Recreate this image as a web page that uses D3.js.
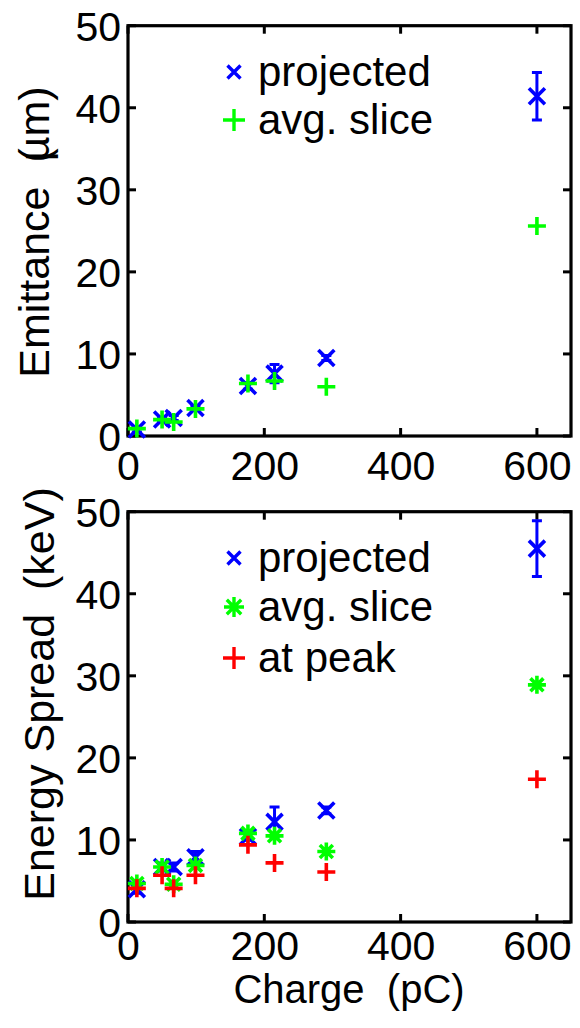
<!DOCTYPE html>
<html><head><meta charset="utf-8">
<script src="https://cdn.jsdelivr.net/npm/d3@7"></script>
<style>html,body{margin:0;padding:0;background:#fff;}svg{display:block;}text{white-space:pre;}</style>
</head><body>
<svg id="c" width="580" height="1028"></svg>
<script>
// ---- data ----
const charge = [13, 50, 67, 99, 176, 215, 291, 600];
const xTicks = [0, 200, 400, 600];
const yTicks = [0, 10, 20, 30, 40, 50];

// top panel: emittance (µm)
const emitProjected = [0.8, 2.0, 2.2, 3.4, 6.1, 7.6, 9.5, 41.4];
const emitProjectedErr = [0.3, 0.3, 0.3, 0.3, 0.4, 1.1, 0.3, 2.9];
const emitSlice = [0.9, 2.0, 1.7, 3.3, 6.4, 6.7, 6.0, 25.6];

// bottom panel: energy spread (keV)
const esProjected = [4.0, 6.7, 6.7, 7.9, 10.4, 12.2, 13.6, 45.5];
const esProjectedErr = [0.5, 0.5, 0.5, 0.7, 0.4, 1.8, 0.4, 3.4];
const esSlice = [4.7, 6.7, 4.6, 6.9, 10.8, 10.5, 8.6, 28.9];
const esPeak = [4.1, 5.7, 4.1, 5.7, 9.4, 7.2, 6.1, 17.4];

const topLegend = ["projected", "avg. slice"];
const botLegend = ["projected", "avg. slice", "at peak"];

// ---- drawing ----
const FONT = "'Liberation Sans', Arial, Helvetica, sans-serif";
const svg = d3.select("#c");
const BLUE = "#0000ff", GREEN = "#00ff00", RED = "#ff0000";

function markerPath(type, r) {
  if (type === "x") return `M${-r},${-r}L${r},${r}M${-r},${r}L${r},${-r}`;
  if (type === "+") return `M${-r},0L${r},0M0,${-r}L0,${r}`;
  const d = r * 0.72;
  return `M${-r},0L${r},0M0,${-r}L0,${r}M${-d},${-d}L${d},${d}M${-d},${d}L${d},${-d}`;
}

function panel(opts) {
  const {top, bottom, left, right} = opts;
  const x = d3.scaleLinear().domain([0, 650]).range([left, right]);
  const y = d3.scaleLinear().domain([0, 50]).range([bottom, top]);
  const g = svg.append("g");

  const tl = 8;
  const axB = d3.axisBottom(x).tickValues(xTicks).tickSize(0).tickPadding(0).tickFormat(d3.format("d"));
  const axL = d3.axisLeft(y).tickValues(yTicks).tickSize(0).tickFormat(d3.format("d"));
  const gb = g.append("g").attr("transform", `translate(0,${bottom})`).call(axB);
  gb.select(".domain").remove();
  gb.selectAll("text").attr("dy", null).attr("y", opts.xLabY).attr("font-size", 41).attr("font-family", FONT).attr("fill", "#000");
  const gl = g.append("g").attr("transform", `translate(${left},0)`).call(axL);
  gl.select(".domain").remove();
  gl.selectAll("text").attr("x", -7).attr("dy", "0.36em").attr("font-size", 41).attr("font-family", FONT).attr("fill", "#000");

  const tickG = g.append("g").attr("stroke", "#000").attr("stroke-width", 3);
  xTicks.forEach(v => {
    tickG.append("line").attr("x1", x(v)).attr("x2", x(v)).attr("y1", bottom).attr("y2", bottom - tl);
    tickG.append("line").attr("x1", x(v)).attr("x2", x(v)).attr("y1", top).attr("y2", top + tl);
  });
  yTicks.forEach(v => {
    tickG.append("line").attr("x1", left).attr("x2", left + tl).attr("y1", y(v)).attr("y2", y(v));
    tickG.append("line").attr("x1", right).attr("x2", right - tl).attr("y1", y(v)).attr("y2", y(v));
  });
  g.append("rect").attr("x", left).attr("y", top).attr("width", right - left).attr("height", bottom - top)
    .attr("fill", "none").attr("stroke", "#000").attr("stroke-width", 3.2);

  const data = g.append("g");
  const eb = data.append("g").attr("stroke", BLUE).attr("stroke-width", 3).attr("fill", "none");
  opts.proj.forEach((v, i) => {
    const e = opts.err[i], cx = x(charge[i]);
    eb.append("path").attr("d",
      `M${cx},${y(v - e)}L${cx},${y(v + e)}M${cx - 5},${y(v - e)}L${cx + 5},${y(v - e)}M${cx - 5},${y(v + e)}L${cx + 5},${y(v + e)}`);
  });
  opts.series.forEach(s => {
    data.append("g").selectAll("path").data(s.values).join("path")
      .attr("transform", (v, i) => `translate(${x(charge[i])},${y(v)})`)
      .attr("d", markerPath(s.type, s.r))
      .attr("stroke", s.color).attr("stroke-width", 3.6).attr("fill", "none");
  });

  const lg = g.append("g");
  opts.legend.forEach((t, i) => {
    const s = opts.series[i];
    const cy = opts.legY[i];
    lg.append("path").attr("transform", `translate(${opts.legX},${cy})`)
      .attr("d", markerPath(s.type, s.lr)).attr("stroke", s.color).attr("stroke-width", 3.4).attr("fill", "none");
    lg.append("text").attr("x", opts.legX + 24).attr("y", cy + 14).attr("font-size", 42)
      .attr("font-family", FONT).attr("fill", "#000").text(t);
  });
  return {x, y};
}

panel({
  top: 25.7, bottom: 436, left: 128, right: 571, xLabY: 44,
  proj: emitProjected, err: emitProjectedErr,
  series: [
    {values: emitProjected, type: "x", r: 8, lr: 6.5, color: BLUE},
    {values: emitSlice, type: "+", r: 9, lr: 11, color: GREEN}
  ],
  legend: topLegend, legX: 234, legY: [72, 120]
});

panel({
  top: 511.7, bottom: 922, left: 128, right: 571, xLabY: 38,
  proj: esProjected, err: esProjectedErr,
  series: [
    {values: esProjected, type: "x", r: 8, lr: 6.5, color: BLUE},
    {values: esSlice, type: "*", r: 9, lr: 10, color: GREEN},
    {values: esPeak, type: "+", r: 9, lr: 11, color: RED}
  ],
  legend: botLegend, legX: 234, legY: [558, 607, 658]
});

// axis titles
const t1 = svg.append("text").attr("transform", "translate(49,232) rotate(-90)")
  .attr("text-anchor", "middle").attr("font-size", 43).attr("font-family", FONT).attr("fill", "#000");
t1.append("tspan").text("Emittance  (");
t1.append("tspan").attr("dx", -13).text("µm)");

svg.append("text").attr("transform", "translate(54,694) rotate(-90)")
  .attr("text-anchor", "middle").attr("font-size", 43).attr("font-family", FONT).attr("fill", "#000")
  .text("Energy Spread  (keV)");

svg.append("text").attr("x", 349).attr("y", 1003).attr("text-anchor", "middle")
  .attr("font-size", 40).attr("font-family", FONT).attr("fill", "#000").text("Charge  (pC)");
</script>
</body></html>
